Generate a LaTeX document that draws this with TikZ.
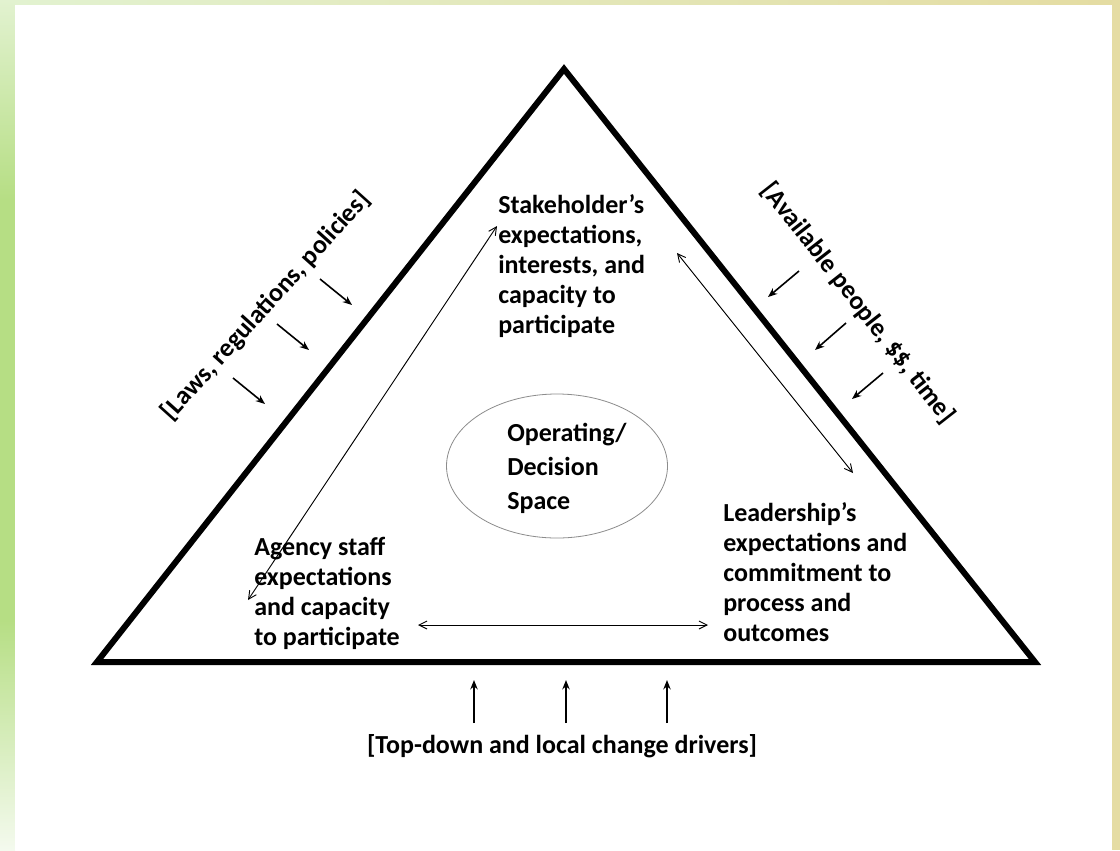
\documentclass[tikz,border=0pt]{standalone}
\usepackage{fontspec}
\setmainfont{Carlito}
\usetikzlibrary{arrows.meta,shapes.geometric}
\definecolor{gLight}{RGB}{226,242,208}
\definecolor{gMid}{RGB}{182,222,132}
\definecolor{gPale}{RGB}{244,250,238}
\definecolor{wMid}{RGB}{247,250,240}
\definecolor{yTan}{RGB}{228,220,162}
\definecolor{yRight}{RGB}{229,220,163}
\begin{document}
\begin{tikzpicture}[x=0.75pt,y=-0.75pt,
  lbl/.style={font=\fontsize{19.5}{22.5}\selectfont\bfseries, inner sep=0pt, align=left, text=black},
  side/.style={line width=4.5pt, line join=miter},
  dbl/.style={line width=0.7pt, {Straight Barb[length=6pt,width=6pt]}-{Straight Barb[length=6pt,width=6pt]}},
  push/.style={line width=1.2pt, -{Stealth[length=7pt,width=5.5pt]}},
]
\useasboundingbox (0,0) rectangle (1120,850);
% background frame
\shade[top color=gLight, bottom color=gMid] (0,0) rectangle (15,200);
\fill[gMid] (0,199.5) rectangle (15,620.5);
\shade[top color=gMid, bottom color=gPale] (0,620) rectangle (15,850);
\shade[left color=gLight, middle color=wMid, right color=yTan] (15,0) rectangle (1112,5);
\fill[yRight] (1112,0) rectangle (1120,850);
\fill[white] (15,5) rectangle (1112,850);

% triangle
\coordinate (A) at (564,69);
\coordinate (B) at (97,662);
\coordinate (C) at (1035,662);
\draw[side] (A) -- (B) -- (C) -- cycle;

% ellipse
\node[ellipse, draw=gray!90, line width=0.6pt, minimum width=165.75pt, minimum height=108pt, inner sep=0pt] (space) at (557,466) {};
\node[lbl, font=\fontsize{19.5}{25.5}\selectfont\bfseries, anchor=north west] (op) at (507,423) {Operating/\\Decision\\Space};

% corner texts
\node[lbl, anchor=north west] (stake) at (498,194) {Stakeholder’s\\expectations,\\interests, and\\capacity to\\participate};
\node[lbl, anchor=north west] (agency) at (254,537) {Agency staff\\expectations\\and capacity\\to participate};
\node[lbl, anchor=north west] (lead) at (723,502) {Leadership’s\\expectations and\\commitment to\\process and\\outcomes};

% outside labels
\node[lbl, anchor=base] (drivers) at (562,753) {[Top-down and local change drivers]};
\node[lbl, rotate=48] (laws) at (266,306) {[Laws, regulations, policies]};
\node[lbl, rotate=-52] (avail) at (858,303) {[Available people, \$\$, time]};

% double arrows
\coordinate (d1a) at (248,600); \coordinate (d1b) at (497,226);
\coordinate (d2a) at (677,253); \coordinate (d2b) at (853,473);
\coordinate (d3a) at (418,625); \coordinate (d3b) at (708,625);
\draw[dbl] (d1a) -- (d1b);
\draw[dbl] (d2a) -- (d2b);
\draw[dbl] (d3a) -- (d3b);

% pushing arrows
\coordinate (l1t) at (233,378); \coordinate (l1h) at (265,404);
\coordinate (l2t) at (277,324); \coordinate (l2h) at (309,350);
\coordinate (l3t) at (320,279); \coordinate (l3h) at (352,305);
\coordinate (r1t) at (799,271); \coordinate (r1h) at (768,297);
\coordinate (r2t) at (846,323); \coordinate (r2h) at (815,350);
\coordinate (r3t) at (883,373); \coordinate (r3h) at (852,399);
\coordinate (b1t) at (474,723); \coordinate (b1h) at (474,680);
\coordinate (b2t) at (566,723); \coordinate (b2h) at (566,680);
\coordinate (b3t) at (667,723); \coordinate (b3h) at (667,680);
\foreach \n in {l1,l2,l3,r1,r2,r3,b1,b2,b3} \draw[push] (\n t) -- (\n h);
\end{tikzpicture}
\end{document}
